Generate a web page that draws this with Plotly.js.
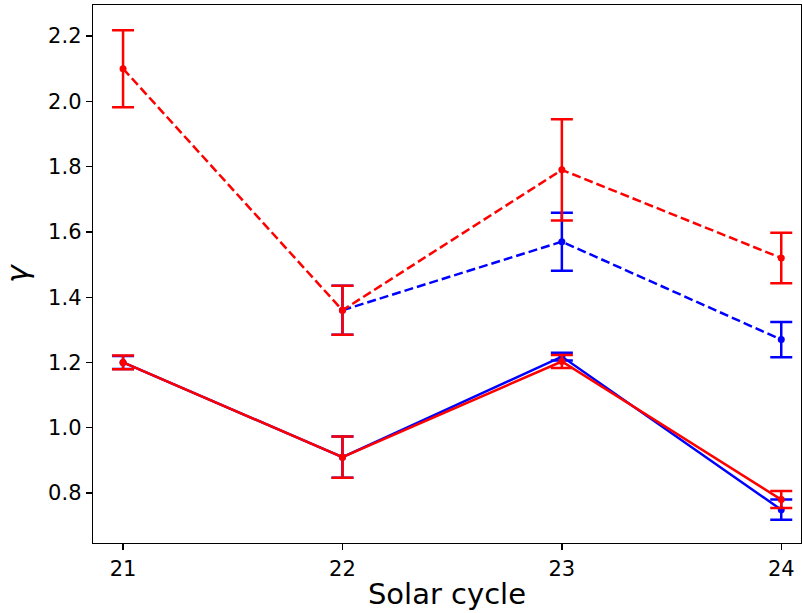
<!DOCTYPE html>
<html>
<head>
<meta charset="utf-8">
<script src="https://cdn.plot.ly/plotly-3.0.1.min.js"></script>
<style>html,body{margin:0;padding:0;background:#fff;}#chart{width:802px;height:613px;}</style>
</head>
<body>
<div id="chart"></div>
<script>
const cycles = [21, 22, 23, 24];
const cyclesB = [22, 23, 24];

const redDashed = [2.10, 1.36, 1.79, 1.52];
const redDashedErr = [0.118, 0.075, 0.155, 0.077];

const blueDashed = [1.36, 1.57, 1.27];
const blueDashedErr = [0.075, 0.089, 0.054];

const blueSolid = [1.20, 0.91, 1.218, 0.749];
const blueSolidErr = [0.02, 0.063, 0.012, 0.031];

const redSolid = [1.20, 0.91, 1.203, 0.78];
const redSolidErr = [0.021, 0.063, 0.02, 0.026];

const xTicks = [21, 22, 23, 24];
const yTicks = [0.8, 1.0, 1.2, 1.4, 1.6, 1.8, 2.0, 2.2];

function tr(x, y, err, color, dash) {
  return {
    x: x, y: y, type: 'scatter', mode: 'lines+markers',
    line: {color: color, width: 2.5, dash: dash},
    marker: {color: color, size: 7},
    error_y: {type: 'data', array: err, visible: true, color: color, thickness: 2.5, width: 11},
    showlegend: false, hoverinfo: 'skip'
  };
}

const data = [
  tr(cyclesB, blueDashed, blueDashedErr, '#0000ff', '9px,4px'),
  tr(cycles, redDashed, redDashedErr, '#ff0000', '9px,4px'),
  tr(cycles, blueSolid, blueSolidErr, '#0000ff', 'solid'),
  tr(cycles, redSolid, redSolidErr, '#ff0000', 'solid')
];

const font = 'DejaVu Sans, sans-serif';
const layout = {
  width: 802, height: 613,
  margin: {l: 93, r: 1, t: 5, b: 70},
  paper_bgcolor: '#fff', plot_bgcolor: '#fff',
  font: {family: font, color: '#000'},
  xaxis: {
    range: [20.863, 24.09], tickvals: xTicks, ticktext: xTicks.map(String),
    showline: true, mirror: true, linecolor: '#000', linewidth: 1.3,
    ticks: 'outside', ticklen: 6, tickwidth: 1.3, tickcolor: '#000',
    showgrid: false, zeroline: false,
    tickfont: {size: 21, family: font},
    title: {text: 'Solar cycle', font: {size: 29, family: font}, standoff: 4}
  },
  yaxis: {
    range: [0.647, 2.295], tickvals: yTicks, ticktext: yTicks.map(v => v.toFixed(1)),
    showline: true, mirror: true, linecolor: '#000', linewidth: 1.3,
    ticks: 'outside', ticklen: 6, tickwidth: 1.3, tickcolor: '#000',
    showgrid: false, zeroline: false,
    tickfont: {size: 21, family: font},
    title: {text: '<i>γ</i>', font: {size: 30, family: font}, standoff: 12}
  }
};

Plotly.newPlot('chart', data, layout, {displayModeBar: false, staticPlot: true});
</script>
</body>
</html>
